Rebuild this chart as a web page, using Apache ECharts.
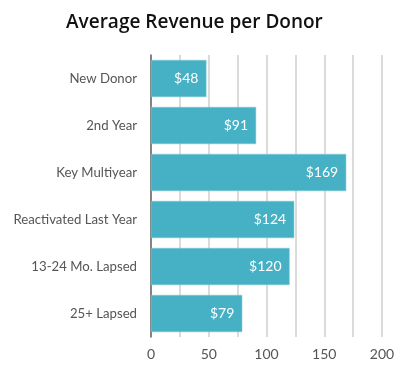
<!DOCTYPE html>
<html><head><meta charset="utf-8">
<script src="https://cdn.jsdelivr.net/npm/echarts@6/dist/echarts.min.js"></script>
<style>html,body{margin:0;padding:0;background:#fff}#c{width:408px;height:366px}</style>
</head><body><div id="c"></div>
<script>
const categories = ["New Donor","2nd Year","Key Multiyear","Reactivated Last Year","13-24 Mo. Lapsed","25+ Lapsed"];
const values = [48,91,169,124,120,79];
const chart = echarts.init(document.getElementById('c'));
chart.setOption({
  animation:false,
  title:{text:'Average Revenue per Donor',left:61,top:8,textStyle:{fontFamily:'Open Sans',fontWeight:600,fontSize:19,color:'#111'}},
  grid:{left:151,right:26,top:55,bottom:29},
  xAxis:{type:'value',min:0,max:200,interval:25,
    axisLine:{show:false},axisTick:{show:false},
    splitLine:{lineStyle:{color:'#cfcfcf',width:1.5}},
    axisLabel:{margin:10,fontFamily:'Lato',fontSize:14,color:'#555',formatter:v=>v%50===0?String(v):''}},
  yAxis:{type:'category',data:categories,inverse:true,
    axisLine:{lineStyle:{color:'#666',width:1.5}},axisTick:{show:false},
    axisLabel:{margin:14,fontFamily:'Lato',fontSize:13.2,color:'#555'}},
  series:[{type:'bar',data:values,barCategoryGap:'21%',
    itemStyle:{color:'#46b1c4',borderColor:'#7cc8d5',borderWidth:0.5},
    label:{show:true,position:'insideRight',distance:8,formatter:p=>'$'+p.value,color:'#fff',fontFamily:'Lato',fontSize:14}}]
});
</script></body></html>
